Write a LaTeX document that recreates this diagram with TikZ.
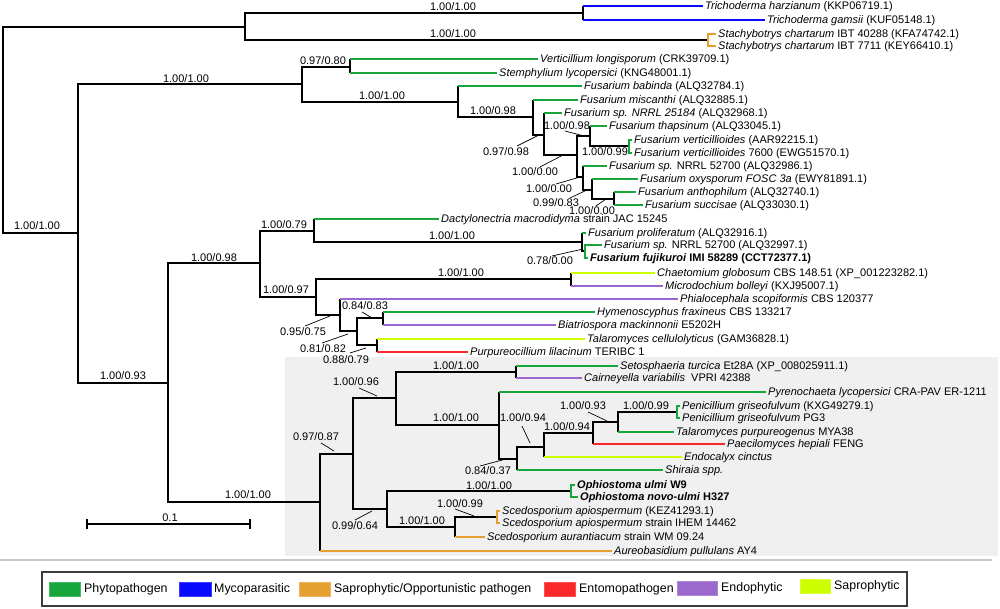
\documentclass[tikz,border=0pt]{standalone}
\usepackage{fontspec}
\setmainfont{Liberation Sans}
\definecolor{cgreen}{RGB}{22,166,60}
\definecolor{cblue}{RGB}{10,10,255}
\definecolor{corange}{RGB}{230,160,50}
\definecolor{cred}{RGB}{250,40,40}
\definecolor{cpurple}{RGB}{155,105,205}
\definecolor{cyg}{RGB}{205,255,0}
\definecolor{bggrey}{RGB}{240,240,240}
\definecolor{sepgrey}{RGB}{200,200,200}
\definecolor{boxgrey}{RGB}{60,60,60}
\newcommand{\fs}{\fontsize{11}{13}\selectfont}
\newcommand{\lgfs}{\fontsize{12.4}{14}\selectfont}
\newcommand{\lv}[6]{%
  \node[leaf] (#2) at (#4,#5) {#6};
  \draw[br] (#1) -- (#1|-#2.west);
  \draw[lf,#3] (#1|-#2.west) -- (#2.west);}
\begin{document}
\begin{tikzpicture}[x=1pt,y=-1pt,
  br/.style={line width=1.8pt,line cap=square,black},
  lf/.style={line width=1.4pt},
  ld/.style={line width=0.7pt},
  leaf/.style={anchor=west,inner xsep=2pt,inner ysep=0pt,text height=8pt,text depth=1.5pt,font=\fs},
  lab/.style={inner sep=0pt,font=\fs},
  lgsq/.style={draw=#1!80!white,fill=#1,line width=0.6pt},
  lgtx/.style={anchor=west,inner sep=0pt,font=\lgfs}]
\useasboundingbox (0,0) rectangle (1000,609);
\fill[bggrey] (285,357) rectangle (998,556);
\draw[sepgrey,line width=2pt] (0,560) -- (992,560);

% internal nodes
\coordinate (root) at (3,130);
\coordinate (A) at (245,27);
\coordinate (tri) at (583,13);
\coordinate (sta) at (708,40);
\coordinate (B) at (78,233);
\coordinate (C) at (302,84);
\coordinate (ve) at (350,67);
\coordinate (D) at (458,102);
\coordinate (E) at (533,117);
\coordinate (E2) at (544,135);
\coordinate (F) at (577,155);
\coordinate (G) at (590,136);
\coordinate (vv) at (629,146);
\coordinate (H) at (583,177);
\coordinate (I) at (592,190);
\coordinate (J) at (614,199);
\coordinate (L) at (168,383);
\coordinate (K) at (260,263);
\coordinate (M) at (314,231);
\coordinate (N) at (582,242);
\coordinate (N2) at (585,251);
\coordinate (O) at (316,297);
\coordinate (P) at (571,279);
\coordinate (Q) at (340,315);
\coordinate (R) at (357,331);
\coordinate (S) at (383,318);
\coordinate (T) at (377,345);
\coordinate (U) at (320,502);
\coordinate (V) at (353,454);
\coordinate (W) at (396,398);
\coordinate (W1) at (516,372);
\coordinate (X) at (499,425);
\coordinate (Y) at (517,459);
\coordinate (Z) at (544,447);
\coordinate (AA) at (593,433);
\coordinate (AB) at (618,422);
\coordinate (AC) at (677,412);
\coordinate (AD) at (387,509);
\coordinate (oph) at (571,491);
\coordinate (AE) at (455,527);
\coordinate (AF) at (497,517);

% black branches
\foreach \p/\c in {root/A,root/B,A/tri,A/sta,B/C,B/L,C/ve,C/D,D/E,E/E2,E2/F,F/G,G/vv,F/H,H/I,I/J,
  L/K,L/U,K/M,K/O,M/N,N/N2,O/P,O/Q,Q/R,R/S,R/T,U/V,V/W,V/AD,W/W1,W/X,X/Y,Y/Z,Z/AA,AA/AB,AB/AC,
  AD/oph,AD/AE,AE/AF}
  \draw[br] (\p) |- (\c);

% leaves
\lv{tri}{th}{cblue}{703}{6}{\textit{Trichoderma harzianum} (KKP06719.1)}
\lv{tri}{tg}{cblue}{765}{20}{\textit{Trichoderma gamsii} (KUF05148.1)}
\node[leaf] (sc1) at (716,34) {\textit{Stachybotrys chartarum} IBT 40288 (KFA74742.1)};
\node[leaf] (sc2) at (716,46) {\textit{Stachybotrys chartarum} IBT 7711 (KEY66410.1)};
\draw[lf,corange] (sc1.west) -| (sta) |- (sc2.west);
\lv{ve}{vl}{cgreen}{538}{59}{\textit{Verticillium longisporum} (CRK39709.1)}
\lv{ve}{sl}{cgreen}{497}{73}{\textit{Stemphylium lycopersici} (KNG48001.1)}
\lv{D}{fb}{cgreen}{582}{86}{\textit{Fusarium babinda} (ALQ32784.1)}
\lv{E}{fm}{cgreen}{578}{100}{\textit{Fusarium miscanthi} (ALQ32885.1)}
\lv{E2}{fs1}{cgreen}{562}{113}{\textit{Fusarium sp. NRRL 25184} (ALQ32968.1)}
\lv{G}{ft}{cgreen}{607}{126}{\textit{Fusarium thapsinum} (ALQ33045.1)}
\node[leaf] (fv1) at (632,140) {\textit{Fusarium verticillioides} (AAR92215.1)};
\node[leaf] (fv2) at (632,153) {\textit{Fusarium verticillioides} 7600 (EWG51570.1)};
\draw[lf,cgreen] (fv1.west) -| (vv) |- (fv2.west);
\lv{H}{fs2}{cgreen}{607}{166}{\textit{Fusarium sp.} NRRL 52700 (ALQ32986.1)}
\lv{I}{fo}{cgreen}{638}{179}{\textit{Fusarium oxysporum FOSC 3a} (EWY81891.1)}
\lv{J}{fa}{cgreen}{636}{192}{\textit{Fusarium anthophilum} (ALQ32740.1)}
\lv{J}{fsu}{cgreen}{643}{205}{\textit{Fusarium succisae} (ALQ33030.1)}
\lv{M}{dm}{cgreen}{439}{219}{\textit{Dactylonectria macrodidyma} strain JAC 15245}
\lv{N}{fp}{cgreen}{586}{233}{\textit{Fusarium proliferatum} (ALQ32916.1)}
\node[leaf] (fs3) at (602,245) {\textit{Fusarium sp.} NRRL 52700 (ALQ32997.1)};
\node[leaf] (ff) at (588,258) {\textbf{\textit{Fusarium fujikuroi} IMI 58289 (CCT72377.1)}};
\draw[lf,cgreen] (fs3.west) -| (N2) |- (ff.west);
\lv{P}{cg}{cyg}{655}{273}{\textit{Chaetomium globosum} CBS 148.51 (XP\_001223282.1)}
\lv{P}{mb}{cpurple}{663}{286}{\textit{Microdochium bolleyi} (KXJ95007.1)}
\lv{Q}{ps}{cpurple}{678}{299}{\textit{Phialocephala scopiformis} CBS 120377}
\lv{S}{hf}{cgreen}{595}{312}{\textit{Hymenoscyphus fraxineus} CBS 133217}
\lv{S}{bm}{cpurple}{556}{325}{\textit{Biatriospora mackinnonii} E5202H}
\lv{T}{tc}{cyg}{585}{339}{\textit{Talaromyces cellulolyticus} (GAM36828.1)}
\lv{T}{pl}{cred}{468}{352}{\textit{Purpureocillium lilacinum} TERIBC 1}
\lv{W1}{st}{cgreen}{618}{366}{\textit{Setosphaeria turcica} Et28A (XP\_008025911.1)}
\lv{W1}{cv}{cpurple}{582}{378}{\textit{Cairneyella variabilis}\ \ VPRI 42388}
\lv{X}{pyl}{cgreen}{766}{392}{\textit{Pyrenochaeta lycopersici} CRA-PAV ER-1211}
\node[leaf] (pg1) at (680,406) {\textit{Penicillium griseofulvum} (KXG49279.1)};
\node[leaf] (pg2) at (680,418) {\textit{Penicillium griseofulvum} PG3};
\draw[lf,cgreen] (pg1.west) -| (AC) |- (pg2.west);
\lv{AB}{tp}{cgreen}{674}{432}{\textit{Talaromyces purpureogenus} MYA38}
\lv{AA}{ph}{cred}{725}{444}{\textit{Paecilomyces hepiali} FENG}
\lv{Z}{ec}{cyg}{682}{457}{\textit{Endocalyx cinctus}}
\lv{Y}{sh}{cgreen}{663}{470}{\textit{Shiraia spp.}}
\node[leaf] (ou) at (575,485) {\textbf{\textit{Ophiostoma ulmi} W9}};
\node[leaf] (on) at (578,497) {\textbf{\textit{Ophiostoma novo-ulmi} H327}};
\draw[lf,cgreen] (ou.west) -| (oph) |- (on.west);
\node[leaf] (sa1) at (500,511) {\textit{Scedosporium apiospermum} (KEZ41293.1)};
\node[leaf] (sa2) at (500,523) {\textit{Scedosporium apiospermum} strain IHEM 14462};
\draw[lf,corange] (sa1.west) -| (AF) |- (sa2.west);
\lv{AE}{sau}{corange}{485}{537}{\textit{Scedosporium aurantiacum} strain WM 09.24}
\lv{U}{ap}{corange}{612}{551}{\textit{Aureobasidium pullulans} AY4}

% support labels
\node[lab] (b1) at (453,7) {1.00/1.00};
\node[lab] (b2) at (453,34) {1.00/1.00};
\node[lab] (b3) at (323,61) {0.97/0.80};
\node[lab] (b4) at (186,79) {1.00/1.00};
\node[lab] (b5) at (382,96) {1.00/1.00};
\node[lab] (b6) at (493,111) {1.00/0.98};
\node[lab] (b7) at (506,152) {0.97/0.98};
\node[lab] (b8) at (535,172) {1.00/0.00};
\node[lab] (b9) at (567,126) {1.00/0.98};
\node[lab] (b10) at (605,152) {1.00/0.99};
\node[lab] (b11) at (549,189) {1.00/0.00};
\node[lab] (b12) at (556,203) {0.99/0.83};
\node[lab] (b13) at (592,211) {1.00/0.00};
\node[lab] (b14) at (550,261) {0.78/0.00};
\node[lab] (b15) at (284,225) {1.00/0.79};
\node[lab] (b16) at (452,236) {1.00/1.00};
\node[lab] (b17) at (214,258) {1.00/0.98};
\node[lab] (b18) at (461,273) {1.00/1.00};
\node[lab] (b19) at (286,290) {1.00/0.97};
\node[lab] (b20) at (365,306) {0.84/0.83};
\node[lab] (b21) at (303,332) {0.95/0.75};
\node[lab] (b22) at (323,349) {0.81/0.82};
\node[lab] (b23) at (346,360) {0.88/0.79};
\node[lab] (b24) at (123,376) {1.00/0.93};
\node[lab] (b25) at (37,226) {1.00/1.00};
\node[lab] (b26) at (248,495) {1.00/1.00};
\node[lab] (b27) at (316,437) {0.97/0.87};
\node[lab] (b28) at (356,382) {1.00/0.96};
\node[lab] (b29) at (456,366) {1.00/1.00};
\node[lab] (b30) at (456,418) {1.00/1.00};
\node[lab] (b31) at (355,526) {0.99/0.64};
\node[lab] (b32) at (460,504) {1.00/0.99};
\node[lab] (b33) at (422,521) {1.00/1.00};
\node[lab] (b34) at (488,471) {0.84/0.37};
\node[lab] (b35) at (489,486) {1.00/1.00};
\node[lab] (b36) at (523,418) {1.00/0.94};
\node[lab] (b37) at (567,427) {1.00/0.94};
\node[lab] (b38) at (583,406) {1.00/0.93};
\node[lab] (b39) at (646,406) {1.00/0.99};

% leader lines
\draw[ld] (517,146) -- (539,135);
\draw[ld] (540,167) -- (563,155);
\draw[ld] (565,131) -- (584,136);
\draw[ld] (556,184) -- (580,177);
\draw[ld] (570,198) -- (587,190);
\draw[ld] (596,206) -- (606,199);
\draw[ld] (552,256) -- (583,249);
\draw[ld] (362,312) -- (372,318);
\draw[ld] (305,326) -- (330,316);
\draw[ld] (322,343) -- (348,334);
\draw[ld] (350,353) -- (366,348);
\draw[ld] (321,443) -- (334,451);
\draw[ld] (359,388) -- (377,396);
\draw[ld] (355,520) -- (372,511);
\draw[ld] (455,509) -- (474,516);
\draw[ld] (480,466) -- (506,459);
\draw[ld] (522,426) -- (530,443);
\draw[ld] (588,412) -- (607,421);

% scale bar
\coordinate (s0) at (87,524);
\coordinate (s1) at (250,524);
\draw[line width=1.8pt] (s0) -- (s1);
\draw[line width=1.5pt] ([yshift=-5pt]s0) -- ([yshift=5pt]s0);
\draw[line width=1.5pt] ([yshift=-5pt]s1) -- ([yshift=5pt]s1);
\node[lab] (sbl) at (170,518) {0.1};

% legend
\draw[boxgrey,line width=1.3pt] (42,572) rectangle (907,606);
\draw[lgsq=cgreen] (49,582) rectangle (80,596);
\node[lgtx] (t1) at (84,589) {Phytopathogen};
\draw[lgsq=cblue] (179,582) rectangle (211,596);
\node[lgtx] (t2) at (214,589) {Mycoparasitic};
\draw[lgsq=corange] (299,582) rectangle (330,596);
\node[lgtx] (t3) at (334,589) {Saprophytic/Opportunistic pathogen};
\draw[lgsq=cred] (544,582) rectangle (575,596);
\node[lgtx] (t4) at (579,589) {Entomopathogen};
\draw[lgsq=cpurple] (677,581) rectangle (717,595);
\node[lgtx] (t5) at (721,588) {Endophytic};
\draw[lgsq=cyg] (800,579) rectangle (830,593);
\node[lgtx] (t6) at (834,586) {Saprophytic};
\end{tikzpicture}
\end{document}
